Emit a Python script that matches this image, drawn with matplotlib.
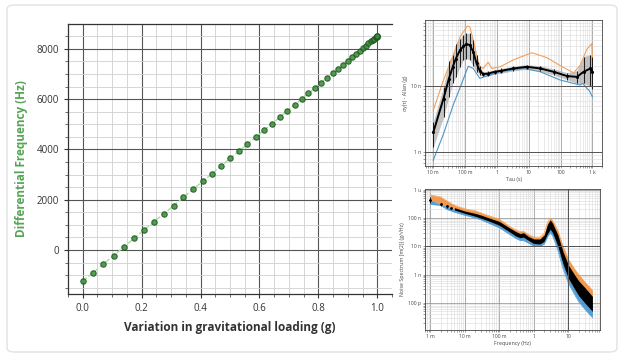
import matplotlib
matplotlib.use("Agg")
import matplotlib.pyplot as plt
from matplotlib.patches import FancyBboxPatch
from matplotlib.ticker import MultipleLocator, FixedLocator, NullFormatter

plt.rcParams["font.family"] = ["Open Sans", "DejaVu Sans"]

# --- main chart: differential frequency vs loading ---
loading_g = [0.000, 0.035, 0.070, 0.105, 0.139, 0.174, 0.208, 0.242, 0.276, 0.309,
             0.342, 0.375, 0.407, 0.438, 0.469, 0.500, 0.530, 0.559, 0.588, 0.616,
             0.643, 0.669, 0.695, 0.719, 0.743, 0.766, 0.788, 0.809, 0.829, 0.848,
             0.866, 0.883, 0.899, 0.914, 0.927, 0.940, 0.951, 0.961, 0.970, 0.978,
             0.985, 0.990, 0.995, 0.998, 0.999, 1.000]
diff_freq_hz = [-1240, -900, -560, -220, 120, 460, 790, 1120, 1450, 1770,
                2090, 2420, 2730, 3030, 3330, 3640, 3930, 4210, 4490, 4770,
                5030, 5280, 5540, 5770, 6000, 6230, 6440, 6650, 6840, 7030,
                7200, 7370, 7520, 7670, 7800, 7920, 8030, 8130, 8220, 8300,
                8360, 8410, 8460, 8490, 8500, 8510]

# --- Allan deviation panel (values in g) ---
adev_tau = [0.01, 0.021, 0.031, 0.041, 0.051, 0.069, 0.088, 0.11, 0.14, 0.18,
            0.23, 0.29, 0.37, 0.53, 0.87, 1.3, 3.3, 8.7, 23, 60,
            160, 325, 530, 870, 1000]
adev_mid = [2.0e-9, 6.5e-9, 13e-9, 19.6e-9, 26e-9, 35e-9, 40e-9, 43e-9, 42e-9, 33e-9,
            22e-9, 17e-9, 15.2e-9, 15.5e-9, 16.5e-9, 17e-9, 18.5e-9, 19.6e-9, 18.5e-9, 16.5e-9,
            14.2e-9, 13.8e-9, 16.5e-9, 18.5e-9, 16.5e-9]
adev_err_lo = [1.2e-9, 3.4e-9, 6.9e-9, 11e-9, 13.8e-9, 19.6e-9, 25e-9, 26e-9, 25e-9, 20e-9,
               16.5e-9, 14.7e-9, 14e-9, 14.3e-9, 15.2e-9, 15.6e-9, 17e-9, 18e-9, 16.8e-9, 14.8e-9,
               12.5e-9, 11e-9, 11e-9, 10e-9, 9e-9]
adev_err_hi = [2.9e-9, 9.8e-9, 24e-9, 30e-9, 44e-9, 52e-9, 60e-9, 63e-9, 63e-9, 50e-9,
               30e-9, 20e-9, 16.5e-9, 16.8e-9, 17.8e-9, 18.5e-9, 20e-9, 21.2e-9, 20.3e-9, 18.3e-9,
               16e-9, 17e-9, 28e-9, 30e-9, 28e-9]

adev_up_tau = [0.01, 0.021, 0.043, 0.069, 0.117, 0.14, 0.18, 0.23, 0.29, 0.37,
               0.53, 0.69, 1.26, 3.3, 12.5, 37, 96, 255, 410, 665, 955, 1000]
adev_up = [4.3e-9, 12.4e-9, 30e-9, 55e-9, 81e-9, 79e-9, 50e-9, 29e-9, 19.6e-9, 18.5e-9,
           23e-9, 18.5e-9, 19.6e-9, 25e-9, 32e-9, 27e-9, 20.5e-9, 15.9e-9, 20.5e-9, 36e-9,
           44e-9, 26e-9]

adev_low_tau = [0.01, 0.021, 0.043, 0.069, 0.126, 0.18, 0.29, 0.48, 1.26, 6.8,
                23, 96, 255, 410, 500, 665, 800, 1000]
adev_low = [0.76e-9, 1.9e-9, 5.3e-9, 9.4e-9, 20e-9, 18.5e-9, 13.1e-9, 14.2e-9, 16.5e-9, 18.5e-9,
            16.5e-9, 12.4e-9, 11e-9, 10.4e-9, 11e-9, 9.3e-9, 8.5e-9, 6.9e-9]

# --- noise spectrum panel (g/sqrt(Hz)) ---
spec_freq = [0.001, 0.002, 0.003, 0.005, 0.01, 0.02, 0.03, 0.05, 0.1, 0.2,
             0.3, 0.4, 0.5, 0.7, 1.0, 1.5, 2.0, 2.5, 3.0, 3.5,
             4.0, 5.0, 7.0, 10, 15, 20, 30, 50]
spec_mid = [4.4e-7, 3.0e-7, 2.6e-7, 2.1e-7, 1.6e-7, 1.3e-7, 1.1e-7, 9e-8, 6.5e-8, 3.8e-8,
            2.8e-8, 2.4e-8, 2.6e-8, 1.9e-8, 1.5e-8, 1.5e-8, 2.0e-8, 4.5e-8, 6.5e-8, 4.5e-8,
            3.2e-8, 1.6e-8, 4e-9, 1.3e-9, 6e-10, 3.5e-10, 2e-10, 1e-10]
spec_core_lo = [4.2e-7, 2.9e-7, 2.5e-7, 1.9e-7, 1.45e-7, 1.15e-7, 9.7e-8, 7.8e-8, 5.5e-8, 3.2e-8,
                2.3e-8, 2.0e-8, 2.1e-8, 1.6e-8, 1.25e-8, 1.2e-8, 1.5e-8, 2.8e-8, 4.0e-8, 3.0e-8,
                2.0e-8, 1.0e-8, 2.4e-9, 7.5e-10, 3.2e-10, 1.8e-10, 1.0e-10, 5e-11]
spec_core_hi = [4.6e-7, 3.1e-7, 2.7e-7, 2.3e-7, 1.75e-7, 1.45e-7, 1.25e-7, 1.0e-7, 7.5e-8, 4.4e-8,
                3.3e-8, 2.8e-8, 3.0e-8, 2.2e-8, 1.8e-8, 1.8e-8, 2.5e-8, 6e-8, 8.5e-8, 6.5e-8,
                4.5e-8, 2.5e-8, 6.5e-9, 2.2e-9, 1.0e-9, 6e-10, 3.5e-10, 1.7e-10]
spec_hi = [6.5e-7, 5.5e-7, 4.0e-7, 2.8e-7, 2.1e-7, 1.8e-7, 1.5e-7, 1.2e-7, 9e-8, 5e-8,
           3.8e-8, 3.3e-8, 3.4e-8, 2.6e-8, 2.1e-8, 2.1e-8, 2.9e-8, 7e-8, 1.0e-7, 8e-8,
           6e-8, 3.5e-8, 1.0e-8, 3.5e-9, 1.6e-9, 1.0e-9, 5.5e-10, 2.8e-10]
spec_lo = [3.0e-7, 2.8e-7, 2.0e-7, 1.6e-7, 1.25e-7, 1.0e-7, 8.5e-8, 6.5e-8, 4.5e-8, 2.6e-8,
           1.9e-8, 1.6e-8, 1.6e-8, 1.3e-8, 1.0e-8, 1.0e-8, 1.2e-8, 2.2e-8, 3.0e-8, 2.3e-8,
           1.5e-8, 7e-9, 1.6e-9, 5e-10, 2e-10, 1.1e-10, 6e-11, 3e-11]
spec_pts_f = [0.001, 0.002, 0.003, 0.004]
spec_pts_v = [4.4e-7, 3.0e-7, 2.6e-7, 2.3e-7]
spec_pts_lo = [3.3e-7, 2.6e-7, 2.3e-7, 2.1e-7]
spec_pts_hi = [5.6e-7, 3.4e-7, 2.9e-7, 2.5e-7]

fig = plt.figure(figsize=(6.24, 3.57), dpi=100)

# card outline
card = FancyBboxPatch((7 / 624, 1 - 352 / 357), 610 / 624, 347 / 357,
                      boxstyle="round,pad=0,rounding_size=0.012",
                      transform=fig.transFigure, facecolor="none",
                      edgecolor="#e2e2e2", linewidth=1.0)
fig.patches.append(card)

# ---------------- main chart ----------------
ax = fig.add_axes([68 / 624, 1 - 294 / 357, 324 / 624, 270 / 357])
ax.plot(loading_g, diff_freq_hz, color="#9be39b", lw=1.0, ls="--", zorder=2)
ax.scatter(loading_g, diff_freq_hz, s=15, color="#3a8c3a", edgecolors="#1d531d",
           linewidths=0.8, alpha=0.85, zorder=3)
ax.set_xlim(-0.05, 1.05)
ax.set_ylim(-1750, 8990)
ax.xaxis.set_major_locator(MultipleLocator(0.2))
ax.xaxis.set_minor_locator(MultipleLocator(0.05))
ax.yaxis.set_major_locator(MultipleLocator(2000))
ax.yaxis.set_minor_locator(MultipleLocator(500))
ax.grid(which="major", color="#555555", lw=0.8)
ax.grid(which="minor", color="#d0d0d0", lw=0.6)
ax.set_axisbelow(True)
ax.spines["right"].set_visible(False)
for s in ["left", "bottom", "top"]:
    ax.spines[s].set_color("#333333")
    ax.spines[s].set_linewidth(0.9)
ax.tick_params(which="major", length=3, color="#333333", labelsize=7, labelcolor="#333333")
ax.tick_params(which="minor", length=2, color="#555555")
ax.set_xlabel("Variation in gravitational loading (g)", fontsize=8.5,
              fontweight="bold", color="#333333", labelpad=5)
ax.set_ylabel("Differential Frequency (Hz)", fontsize=8.5, fontweight="bold",
              color="#55a555", labelpad=6)


def small_log_axes(a):
    a.grid(which="major", color="#8a8a8a", lw=0.5)
    a.grid(which="minor", color="#dadada", lw=0.4)
    a.set_axisbelow(True)
    for s in a.spines.values():
        s.set_color("#444444")
        s.set_linewidth(0.6)
    a.tick_params(which="both", labelsize=3.6, labelcolor="#444444", length=1.5,
                  width=0.4, color="#555555", pad=1.5)
    a.xaxis.set_minor_formatter(NullFormatter())
    a.yaxis.set_minor_formatter(NullFormatter())


# ---------------- Allan deviation ----------------
ax2 = fig.add_axes([425 / 624, 1 - 166 / 357, 177 / 624, 146 / 357])
ax2.set_xscale("log")
ax2.set_yscale("log")
ax2.fill_between(adev_tau, adev_err_lo, adev_err_hi, color="#8c8c8c", alpha=0.5, lw=0)
ax2.plot(adev_up_tau, adev_up, color="#f2a15e", lw=0.8)
ax2.plot(adev_low_tau, adev_low, color="#4d94c8", lw=0.8)
ax2.errorbar(adev_tau, adev_mid,
             yerr=[[m - l for m, l in zip(adev_mid, adev_err_lo)],
                   [h - m for m, h in zip(adev_mid, adev_err_hi)]],
             color="black", lw=1.4, elinewidth=0.6, marker="o", ms=1.2)
ax2.axhline(1e-8, color="#555555", lw=0.7)
ax2.axhline(1e-9, color="#555555", lw=0.7)
ax2.set_xlim(0.0055, 2000)
ax2.set_ylim(6.2e-10, 1e-7)
ax2.xaxis.set_major_locator(FixedLocator([0.01, 0.1, 1, 10, 100, 1000]))
ax2.set_xticklabels(["10 m", "100 m", "1", "10", "100", "1 k"])
ax2.yaxis.set_major_locator(FixedLocator([1e-9, 1e-8]))
ax2.set_yticklabels(["1 n", "10 n"])
small_log_axes(ax2)
ax2.set_xlabel("Tau (s)", fontsize=3.8, color="#444444", labelpad=1.5)
ax2.set_ylabel("σy(τ) - Allan (g)", fontsize=3.8, color="#444444", labelpad=2)

# ---------------- noise spectrum ----------------
ax3 = fig.add_axes([425 / 624, 1 - 330 / 357, 175 / 624, 141 / 357])
ax3.set_xscale("log")
ax3.set_yscale("log")
ax3.fill_between(spec_freq, spec_mid, spec_hi, color="#f08a30", alpha=0.85, lw=0)
ax3.fill_between(spec_freq, spec_lo, spec_mid, color="#3a8fd0", alpha=0.85, lw=0)
ax3.fill_between(spec_freq[3:], spec_core_lo[3:], spec_core_hi[3:], color="black", lw=0)
ax3.plot(spec_freq, spec_hi, color="#f5a05a", lw=0.5)
ax3.plot(spec_freq, spec_lo, color="#5aa2d8", lw=0.5)
ax3.errorbar(spec_pts_f, spec_pts_v,
             yerr=[[v - l for v, l in zip(spec_pts_v, spec_pts_lo)],
                   [h - v for v, h in zip(spec_pts_v, spec_pts_hi)]],
             fmt="o", color="black", ms=1.0, elinewidth=0.6)
ax3.axhline(1e-8, color="#555555", lw=0.7)
ax3.axvline(10, color="#555555", lw=0.7)
ax3.set_xlim(7e-4, 83)
ax3.set_ylim(1.1e-11, 1.05e-6)
ax3.xaxis.set_major_locator(FixedLocator([1e-3, 1e-2, 0.1, 1, 10]))
ax3.set_xticklabels(["1 m", "10 m", "100 m", "1", "10"])
ax3.yaxis.set_major_locator(FixedLocator([1e-10, 1e-9, 1e-8, 1e-7, 1e-6]))
ax3.set_yticklabels(["100 p", "1 n", "10 n", "100 n", "1 u"])
small_log_axes(ax3)
ax3.set_xlabel("Frequency (Hz)", fontsize=3.8, color="#444444", labelpad=1.5)
ax3.set_ylabel("Noise Spectrum [m(2)] (g/√Hz)", fontsize=3.8, color="#444444", labelpad=2)

fig.savefig("out.png", dpi=100)
